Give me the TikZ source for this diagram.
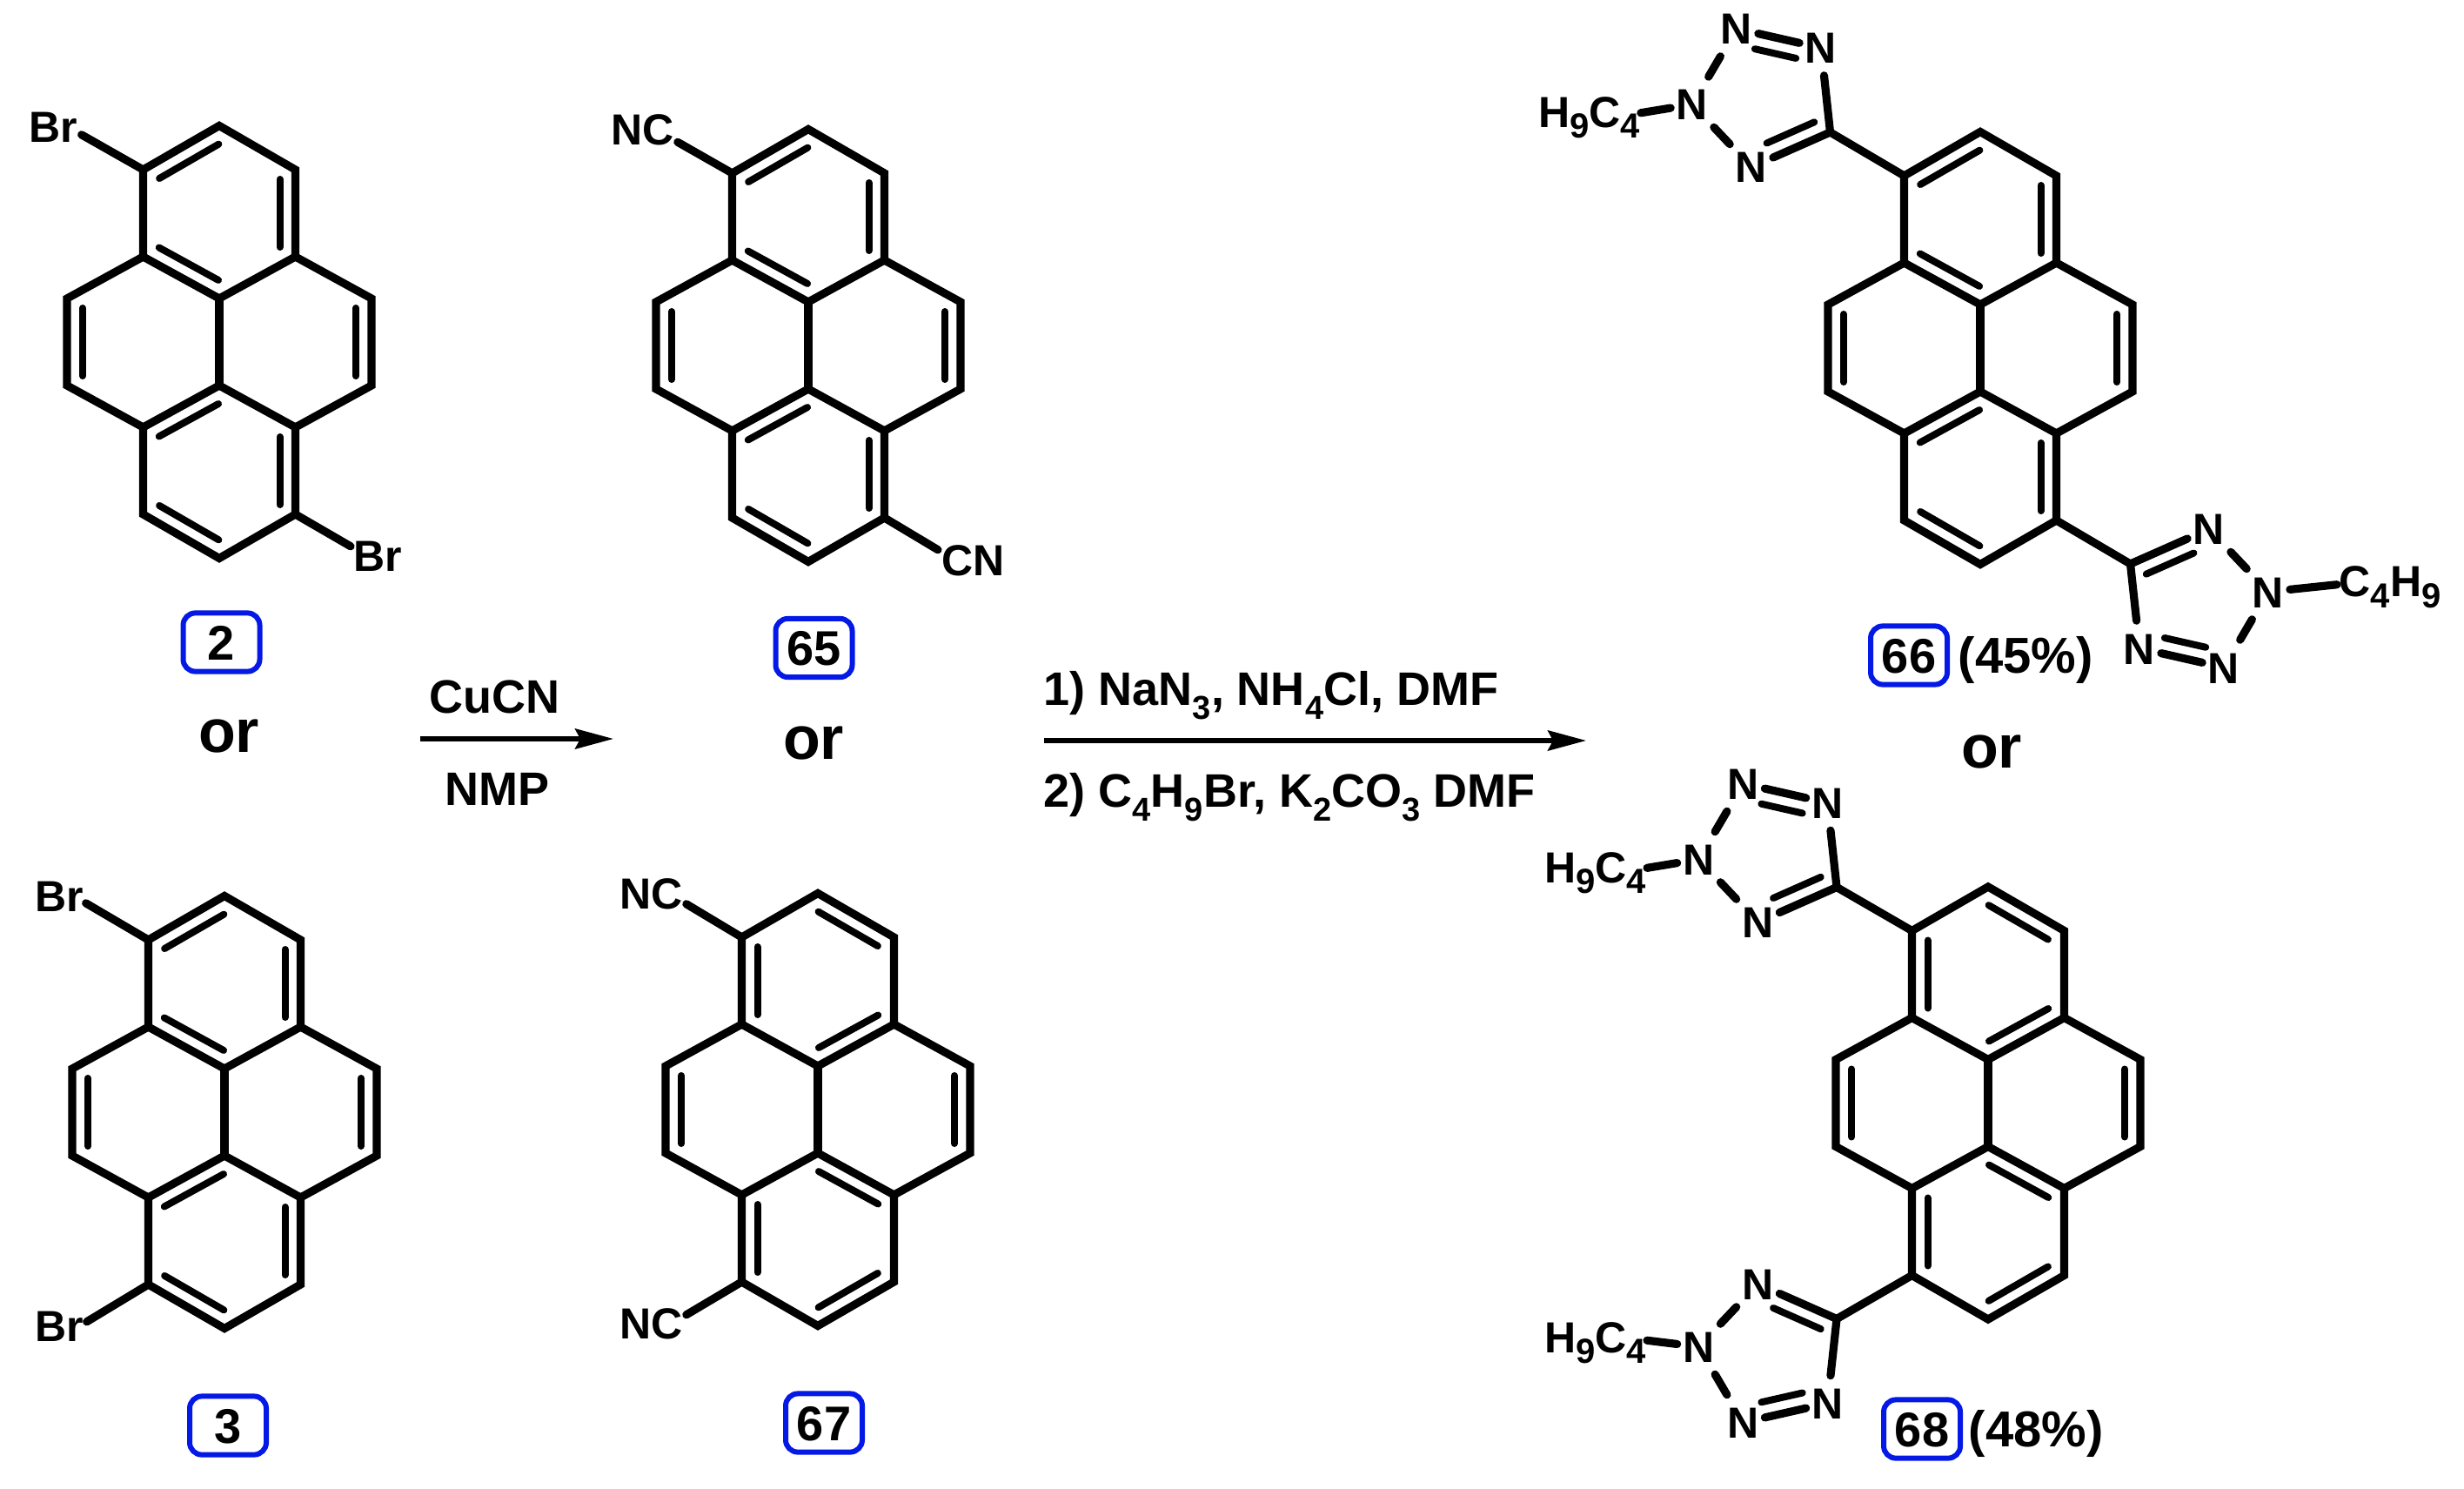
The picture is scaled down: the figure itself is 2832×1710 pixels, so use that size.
\documentclass[tikz,border=0pt]{standalone}
\usepackage{fontspec}
\setmainfont{Liberation Sans}
\usetikzlibrary{calc,arrows.meta}
\definecolor{boxblue}{RGB}{5,25,230}
\tikzset{
  bond/.style={line width=2.3pt,line cap=round,line join=miter,miter limit=10},
  innerbond/.style={line width=2pt,line cap=round},
  atom/.style={font=\bfseries\fontsize{12.5pt}{12.5pt}\selectfont,inner xsep=1.5pt,inner ysep=3.25pt,text height=9pt,text depth=0pt},
  lab/.style={font=\bfseries\fontsize{12.5pt}{12.5pt}\selectfont,inner sep=0pt,anchor=base west},
  reag/.style={font=\bfseries\fontsize{13.5pt}{13.5pt}\selectfont,inner sep=0pt,anchor=base west},
  ortext/.style={font=\bfseries\fontsize{17.5pt}{17.5pt}\selectfont,inner sep=0pt,anchor=base},
  cmpd/.style={draw=boxblue,line width=1.5pt,rounded corners=3.5pt,font=\bfseries\fontsize{14pt}{14pt}\selectfont,
     inner sep=0pt,minimum width=22pt,minimum height=16.8pt,text height=10pt,text depth=0pt},
  yieldtext/.style={font=\bfseries\fontsize{14.5pt}{14.5pt}\selectfont,inner sep=0pt,anchor=base west},
  rarrow/.style={line width=1.3pt,-{Stealth[length=11pt,width=5.8pt,inset=1.5pt]}}
}
\newcommand{\lsub}[1]{\raisebox{-3pt}{\fontsize{10pt}{10pt}\selectfont #1}}
\newcommand{\rsub}[1]{\raisebox{-4pt}{\fontsize{9.5pt}{9.5pt}\selectfont #1}}
% inner line of a double bond, on the left of the way a -> b
\newcommand{\inb}[2]{\draw[innerbond] ($(#1)!0.11!(#2)!4.5pt!90:(#2)$) -- ($(#2)!0.11!(#1)!4.5pt!-90:(#1)$);}
% ring skeleton: prefix, centre x, centre y
\newcommand{\pyreneskel}[3]{
  \coordinate (#1A) at (#2,{#3-248.5});
  \coordinate (#1UR) at ({#2+87.5},{#3-198});
  \coordinate (#1MR) at ({#2+87.5},{#3-98});
  \coordinate (#1FRt) at ({#2+175},{#3-50});
  \coordinate (#1FRb) at ({#2+175},{#3+50});
  \coordinate (#1LR) at ({#2+87.5},{#3+98});
  \coordinate (#1BR) at ({#2+87.5},{#3+198});
  \coordinate (#1Z) at (#2,{#3+248.5});
  \coordinate (#1BL) at ({#2-87.5},{#3+198});
  \coordinate (#1LL) at ({#2-87.5},{#3+98});
  \coordinate (#1FLb) at ({#2-175},{#3+50});
  \coordinate (#1FLt) at ({#2-175},{#3-50});
  \coordinate (#1ML) at ({#2-87.5},{#3-98});
  \coordinate (#1UL) at ({#2-87.5},{#3-198});
  \coordinate (#1CT) at (#2,{#3-50});
  \coordinate (#1CB) at (#2,{#3+50});
  \draw[bond] (#1A) -- (#1UR) -- (#1MR) -- (#1FRt) -- (#1FRb) -- (#1LR) -- (#1BR) -- (#1Z)
     -- (#1BL) -- (#1LL) -- (#1FLb) -- (#1FLt) -- (#1ML) -- (#1UL) -- cycle;
  \draw[bond] (#1ML) -- (#1CT) -- (#1MR);
  \draw[bond] (#1CT) -- (#1CB);
  \draw[bond] (#1LL) -- (#1CB) -- (#1LR);
  \inb{#1FLt}{#1FLb}
  \inb{#1FRb}{#1FRt}
}
\newcommand{\pyreneA}[3]{
  \pyreneskel{#1}{#2}{#3}
  \inb{#1A}{#1UL}
  \inb{#1MR}{#1UR}
  \inb{#1ML}{#1CT}
  \inb{#1CB}{#1LL}
  \inb{#1BR}{#1LR}
  \inb{#1BL}{#1Z}
}
\newcommand{\pyreneB}[3]{
  \pyreneskel{#1}{#2}{#3}
  \inb{#1UR}{#1A}
  \inb{#1UL}{#1ML}
  \inb{#1CT}{#1MR}
  \inb{#1LR}{#1CB}
  \inb{#1LL}{#1BL}
  \inb{#1Z}{#1BR}
}
% tetrazole: prefix, pyrene centre x, y, sign x, sign y
\newcommand{\tetrazole}[5]{
  \node[atom] (#1a) at ({#2+#4*(-280)},{#3+#5*(-367)}) {N};
  \node[atom] (#1b) at ({#2+#4*(-183)},{#3+#5*(-345)}) {N};
  \coordinate (#1C) at ({#2+#4*(-172.5)},{#3+#5*(-248)});
  \node[atom] (#1c) at ({#2+#4*(-263)},{#3+#5*(-208)}) {N};
  \node[atom] (#1d) at ({#2+#4*(-331)},{#3+#5*(-280)}) {N};
  \draw[bond] (#1d) -- (#1a);
  \draw[bond] (#1d) -- (#1c);
  \draw[bond] (#1a) -- (#1b);
  \draw[innerbond,transform canvas={shift={({-4*#4},{17.6*#5})}}] (#1a) -- (#1b);
  \draw[bond] (#1b) -- (#1C);
  \draw[bond] (#1C) -- (#1c);
  \draw[innerbond,shorten <=3pt,transform canvas={shift={({-7.3*#4},{-16.5*#5})}}] (#1C) -- (#1c);
}
\begin{document}
\begin{tikzpicture}[x=0.25pt,y=-0.25pt]
\useasboundingbox (0,0) rectangle (2832,1710);

% compound 2
\pyreneA{p}{252}{393}
\node[lab] (brA) at (33,164) {Br};
\node[lab] (brB) at (406,657) {Br};
\draw[bond] (pUL) -- ([shift={(3.5,8)}]brA.east);
\draw[bond] (pBR) -- ([shift={(-3,-12)}]brB.west);
\node[cmpd] (c2) at (254.5,738) {2};
\node[ortext] (orA) at (263,864) {or};

% compound 3
\pyreneA{q}{258}{1278}
\node[lab] (brC) at (39.5,1047.5) {Br};
\node[lab] (brD) at (39.5,1541) {Br};
\draw[bond] (qUL) -- ([shift={(2,7.5)}]brC.east);
\draw[bond] (qBL) -- ([shift={(3,-5)}]brD.east);
\node[cmpd] (c3) at (262,1638) {3};

% reagent arrow 1
\node[reag] (cucn) at (493,819) {CuCN};
\node[reag] (nmp) at (511,925) {NMP};
\coordinate (a1s) at (482.5,849);
\coordinate (a1e) at (705,849);
\draw[rarrow] (a1s) -- (a1e);

% compound 65
\pyreneA{r}{929}{397}
\node[lab] (ncA) at (702,167) {NC};
\node[lab] (cnA) at (1082,661) {CN};
\draw[bond] (rUL) -- ([shift={(3,13.5)}]ncA.east);
\draw[bond] (rBR) -- ([shift={(-4,-12)}]cnA.west);
\node[cmpd] (c65) at (935.5,744.5) {65};
\node[ortext] (orB) at (935,872) {or};

% compound 67
\pyreneB{s}{940}{1275}
\node[lab] (ncB) at (712,1044) {NC};
\node[lab] (ncC) at (712,1538) {NC};
\draw[bond] (sUL) -- ([shift={(3,12)}]ncB.east);
\draw[bond] (sBL) -- ([shift={(3,-10)}]ncC.east);
\node[cmpd] (c67) at (947,1635) {67};

% reagent arrow 2
\node[reag] (rgA) at (1199,810) {1) NaN\rsub{3}, NH\rsub{4}Cl, DMF};
\node[reag] (rgB) at (1199,927) {2) C\rsub{4}H\rsub{9}Br, K\rsub{2}CO\rsub{3} DMF};
\coordinate (a2s) at (1200,851);
\coordinate (a2e) at (1823,851);
\draw[rarrow] (a2s) -- (a2e);

% compound 66
\pyreneA{t}{2276}{400}
\tetrazole{u}{2276}{400}{1}{1}
\draw[bond] (uC) -- (tUL);
\node[lab] (buA) at (1767.5,147) {H\lsub{9}C\lsub{4}};
\draw[bond] (ud) -- ([shift={(0,-6)}]buA.east);
\tetrazole{v}{2276}{400}{-1}{-1}
\draw[bond] (vC) -- (tBR);
\node[lab] (buB) at (2688,686) {C\lsub{4}H\lsub{9}};
\draw[bond] (vd) -- ([shift={(-2,-3)}]buB.west);
\node[cmpd] (c66) at (2194,753) {66};
\node[yieldtext] (yA) at (2250,773) {(45\%)};
\node[ortext] (orC) at (2289,882) {or};

% compound 68
\pyreneB{w}{2285}{1267.5}
\tetrazole{y}{2283.5}{1267.5}{1}{1}
\draw[bond] (yC) -- (wUL);
\node[lab] (buC) at (1774.7,1014.6) {H\lsub{9}C\lsub{4}};
\draw[bond] (yd) -- ([shift={(0,-6)}]buC.east);
\tetrazole{z}{2283.5}{1267.5}{1}{-1}
\draw[bond] (zC) -- (wBL);
\node[lab] (buD) at (1774.7,1554.5) {H\lsub{9}C\lsub{4}};
\draw[bond] (zd) -- ([shift={(0,-3)}]buD.east);
\node[cmpd] (c68) at (2209,1642) {68};
\node[yieldtext] (yB) at (2262,1662) {(48\%)};
\end{tikzpicture}
\end{document}
